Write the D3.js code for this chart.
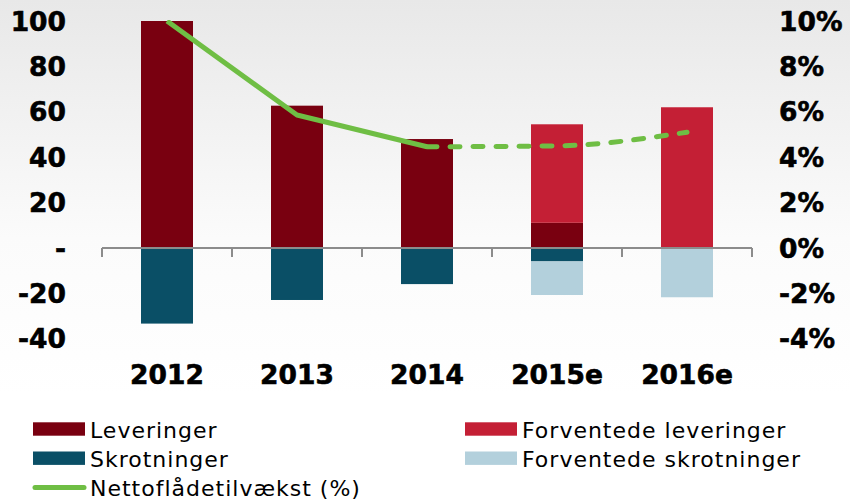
<!DOCTYPE html>
<html>
<head>
<meta charset="utf-8">
<script src="https://cdn.jsdelivr.net/npm/d3@7.9.0/dist/d3.min.js"></script>
<style>
  body { margin: 0; background: #fff; }
  svg { display: block; }
  .tick-label { font-family: "DejaVu Sans", Verdana, sans-serif; font-weight: bold; font-size: 26.5px; fill: #000; stroke: #000; stroke-width: 0.6px; }
  .legend-text { font-family: "DejaVu Sans", Verdana, sans-serif; font-size: 22px; letter-spacing: 1px; fill: #000; }
</style>
</head>
<body>
<svg id="chart" width="850" height="501"></svg>
<script>
// Data
const years = ["2012", "2013", "2014", "2015e", "2016e"];
const leveringer = [100, 62.7, 48, 11.1, 0];
const forventedeLeveringer = [0, 0, 0, 43.4, 62];
const skrotninger = [-33.3, -22.9, -15.9, -5.9, 0];
const forventedeSkrotninger = [0, 0, 0, -14.8, -21.7];
const vaekst = [10, 5.86, 4.46, 4.5, 5.1]; // percent

const leftTicks = [-40, -20, 0, 20, 40, 60, 80, 100];
const rightTicks = [-4, -2, 0, 2, 4, 6, 8, 10];

const seriesKeys = ["lev", "flev", "skrot", "fskrot"];
const colors = {
  lev: "#790010",
  flev: "#c41f35",
  skrot: "#0a4f66",
  fskrot: "#b3d0dc",
  line: "#6fbe44"
};

const svg = d3.select("#chart");

// Background gradient
const defs = svg.append("defs");
const grad = defs.append("linearGradient")
  .attr("id", "bg").attr("x1", 0).attr("y1", 0).attr("x2", 0).attr("y2", 1);
grad.append("stop").attr("offset", "0%").attr("stop-color", "#e8e8e8");
grad.append("stop").attr("offset", "60%").attr("stop-color", "#fbfbfb");
grad.append("stop").attr("offset", "100%").attr("stop-color", "#ffffff");
svg.append("rect").attr("x", 0).attr("y", 0).attr("width", 850).attr("height", 395).attr("fill", "url(#bg)");

// Scales
const x = d3.scaleBand().domain(years).range([102, 752]).paddingInner(0.6).paddingOuter(0.3);
const y = d3.scaleLinear().domain([-40, 100]).range([338.8, 21]);
const yR = d3.scaleLinear().domain([-4, 10]).range([338.8, 21]);

// clip line to plot area top
defs.append("clipPath").attr("id", "plotclip")
  .append("rect").attr("x", 0).attr("y", yR(10) - 1).attr("width", 850).attr("height", 400);

// Stack data
const rows = years.map((yr, i) => ({
  year: yr,
  lev: leveringer[i],
  flev: forventedeLeveringer[i],
  skrot: skrotninger[i],
  fskrot: forventedeSkrotninger[i]
}));
const stacked = d3.stack().keys(seriesKeys).offset(d3.stackOffsetDiverging)(rows);

// Bars
stacked.forEach(layer => {
  svg.append("g")
    .selectAll("rect")
    .data(layer)
    .join("rect")
    .attr("x", d => x(d.data.year))
    .attr("width", x.bandwidth())
    .attr("y", d => y(Math.max(d[0], d[1])))
    .attr("height", d => Math.abs(y(d[0]) - y(d[1])))
    .attr("fill", colors[layer.key]);
});

// Zero axis line with category ticks
const axisY = y(0);
const step = x.step();
const boundaries = d3.range(years.length + 1).map(i => 102 + i * step);
svg.append("line")
  .attr("x1", 102).attr("x2", 752)
  .attr("y1", axisY).attr("y2", axisY)
  .attr("stroke", "#8c8c8c").attr("stroke-width", 2);
svg.append("g").selectAll("line")
  .data(boundaries)
  .join("line")
  .attr("x1", d => d).attr("x2", d => d)
  .attr("y1", axisY).attr("y2", axisY + 9)
  .attr("stroke", "#8c8c8c").attr("stroke-width", 2);

// Line: solid for actuals, dashed for forecast
const pts = years.map((yr, i) => [x(yr) + x.bandwidth() / 2, yR(vaekst[i])]);
const lineG = svg.append("g").attr("clip-path", "url(#plotclip)");
lineG.append("path")
  .attr("d", d3.line()(pts.slice(0, 3)))
  .attr("fill", "none")
  .attr("stroke", colors.line)
  .attr("stroke-width", 5)
  .attr("stroke-linejoin", "round");
lineG.append("path")
  .attr("d", d3.line().curve(d3.curveMonotoneX)(pts.slice(2)))
  .attr("fill", "none")
  .attr("stroke", colors.line)
  .attr("stroke-width", 5)
  .attr("stroke-linecap", "round")
  .attr("stroke-dasharray", "10,13");

// Left axis labels
svg.append("g").selectAll("text")
  .data(leftTicks)
  .join("text")
  .attr("class", "tick-label")
  .attr("x", 66)
  .attr("y", d => y(d))
  .attr("dy", "0.36em")
  .attr("text-anchor", "end")
  .text(d => d === 0 ? "-" : d);

// Right axis labels
svg.append("g").selectAll("text")
  .data(rightTicks)
  .join("text")
  .attr("class", "tick-label")
  .attr("x", 779)
  .attr("y", d => yR(d))
  .attr("dy", "0.36em")
  .attr("text-anchor", "start")
  .text(d => d + "%");

// Category labels
svg.append("g").selectAll("text")
  .data(years)
  .join("text")
  .attr("class", "tick-label")
  .attr("x", d => x(d) + x.bandwidth() / 2)
  .attr("y", 384)
  .attr("text-anchor", "middle")
  .text(d => d);

// Legend
const legendItems = [
  { label: "Leveringer", key: "lev", col: 0, row: 0 },
  { label: "Forventede leveringer", key: "flev", col: 1, row: 0 },
  { label: "Skrotninger", key: "skrot", col: 0, row: 1 },
  { label: "Forventede skrotninger", key: "fskrot", col: 1, row: 1 },
  { label: "Nettoflådetilvækst (%)", key: "line", col: 0, row: 2 }
];
const legend = svg.append("g");
legendItems.forEach(item => {
  const lx = item.col === 0 ? 33 : 465;
  const ly = 429 + item.row * 29.2;
  if (item.key === "line") {
    legend.append("line")
      .attr("x1", lx + 2).attr("x2", lx + 51)
      .attr("y1", ly).attr("y2", ly)
      .attr("stroke", colors.line).attr("stroke-width", 5)
      .attr("stroke-linecap", "round");
  } else {
    legend.append("rect")
      .attr("x", lx).attr("y", ly - 6.7)
      .attr("width", 52).attr("height", 13.4)
      .attr("fill", colors[item.key]);
  }
  legend.append("text")
    .attr("class", "legend-text")
    .attr("x", lx + 57)
    .attr("y", ly + 1)
    .attr("dy", "0.36em")
    .text(item.label);
});
</script>
</body>
</html>
